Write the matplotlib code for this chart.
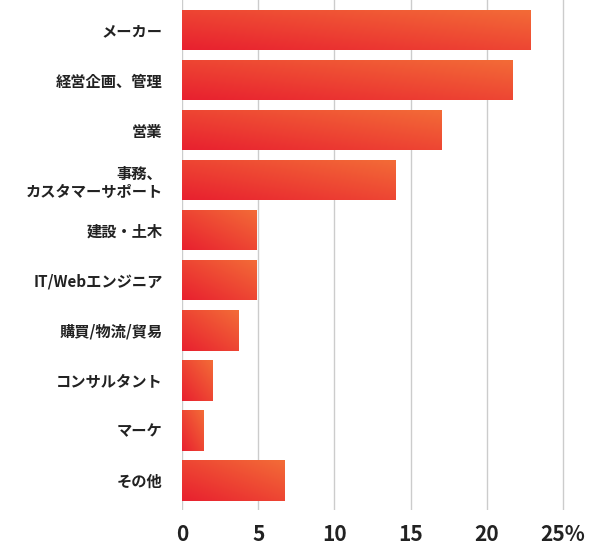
import numpy as np
import matplotlib.pyplot as plt
from matplotlib.colors import LinearSegmentedColormap

plt.rcParams['font.family'] = ['Noto Sans CJK JP', 'DejaVu Sans']

categories = ["メーカー", "経営企画、管理", "営業", "事務、\nカスタマーサポート", "建設・土木",
              "IT/Webエンジニア", "購買/物流/貿易", "コンサルタント", "マーケ", "その他"]
values = [22.9, 21.7, 17.0, 14.0, 4.9, 4.9, 3.7, 2.0, 1.4, 6.7]
tick_vals = [0, 5, 10, 15, 20, 25]
tick_labels = ["0", "5", "10", "15", "20", "25%"]

fig = plt.figure(figsize=(5.92, 5.57), dpi=100)
ax = fig.add_axes([182 / 592, 47 / 557, 1 - 182 / 592, 1 - 47 / 557])

cmap = LinearSegmentedColormap.from_list("g", ["#e8202f", "#f36c37"])
grad = np.add.outer(np.linspace(0, 1, 64), np.linspace(0, 1, 128)) / 2

y = np.arange(len(categories))
bars = ax.barh(y, values, height=0.82, color="none", zorder=2)
for b in bars:
    x0, y0 = b.get_x(), b.get_y()
    w, h = b.get_width(), b.get_height()
    # origin='upper' with inverted y: row 0 at top of bar -> want bottom red, top orange
    im = ax.imshow(grad[::-1], cmap=cmap, aspect="auto", extent=[x0, x0 + w, y0 + h, y0],
                   origin="upper", zorder=2)
    im.set_clip_path(b)

ax.set_xlim(0, 410 / 15.24)
ax.set_ylim(9.6, -0.6)
ax.set_xticks(tick_vals)
ax.set_xticklabels(tick_labels, fontsize=15, fontweight="bold", color="#222222")
ax.set_yticks(y)
ax.set_yticklabels(categories, fontsize=11, fontweight="bold", color="#222222")
ax.tick_params(length=0, axis="y", pad=14)
ax.tick_params(length=0, axis="x", pad=10)
for v in tick_vals:
    ax.axvline(v, color="#cccccc", lw=1, zorder=1)
for s in ax.spines.values():
    s.set_visible(False)

fig.savefig("out.png", dpi=100)
